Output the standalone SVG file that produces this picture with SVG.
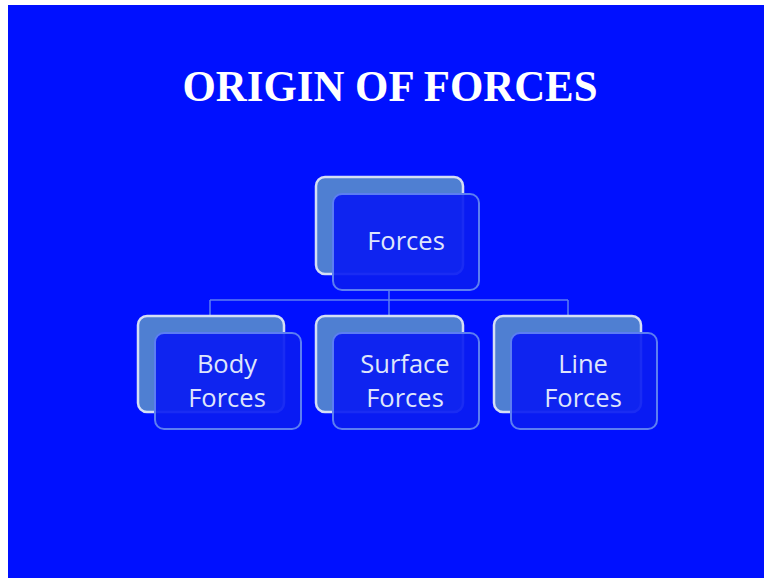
<svg xmlns="http://www.w3.org/2000/svg" width="764" height="578" viewBox="0 0 764 578">
<style>
.back{fill:#4f7fd2;stroke:#d4def5;stroke-width:2.5}
.front{fill:#0a1cf2;fill-opacity:0.92;stroke:#5c7ef2;stroke-width:2}
.lbl{font-family:"Open Sans","Liberation Sans",sans-serif;font-size:25.5px;fill:#dfe6fb;text-anchor:middle}
.conn{fill:none;stroke:#5c7ef2;stroke-width:1.5}
</style>
<rect x="0" y="0" width="764" height="578" fill="#ffffff"/>
<rect x="8" y="5" width="756" height="573" fill="#0010ff"/>
<text x="390" y="101" font-family="Liberation Serif,serif" font-weight="bold" font-size="44" fill="#ffffff" text-anchor="middle" textLength="415" lengthAdjust="spacingAndGlyphs">ORIGIN OF FORCES</text>
<g id="connectors">
<path class="conn" d="M389 290 V300 M210 300 H568 M210 300 V318 M389 300 V318 M568 300 V318"/>
</g>
<g id="forces">
<rect class="back" x="316" y="177" width="147" height="97" rx="9"/>
<rect class="front" x="333" y="194" width="146" height="96" rx="9"/>
<text class="lbl" x="406" y="250">Forces</text>
</g>
<g id="body">
<rect class="back" x="138" y="316" width="146" height="96" rx="9"/>
<rect class="front" x="155" y="333" width="146" height="96" rx="9"/>
<text class="lbl" x="227" y="373">Body</text>
<text class="lbl" x="227" y="407">Forces</text>
</g>
<g id="surface">
<rect class="back" x="316" y="316" width="147" height="96" rx="9"/>
<rect class="front" x="333" y="333" width="146" height="96" rx="9"/>
<text class="lbl" x="405" y="373">Surface</text>
<text class="lbl" x="405" y="407">Forces</text>
</g>
<g id="line">
<rect class="back" x="494" y="316" width="147" height="96" rx="9"/>
<rect class="front" x="511" y="333" width="146" height="96" rx="9"/>
<text class="lbl" x="583" y="373">Line</text>
<text class="lbl" x="583" y="407">Forces</text>
</g>
</svg>
